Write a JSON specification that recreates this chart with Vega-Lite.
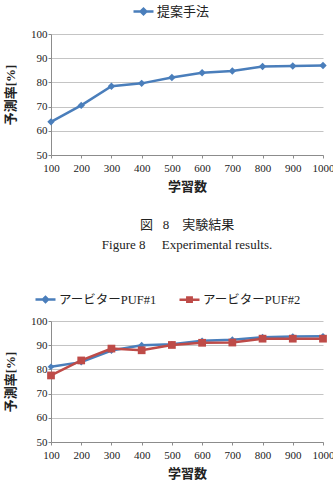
{
  "$schema": "https://vega.github.io/schema/vega-lite/v6.json",
  "padding": {"left": 4, "top": 0, "right": 6, "bottom": 6},
  "background": "white",
  "spacing": 26,
  "config": {
    "view": {"stroke": null},
    "font": "Liberation Serif",
    "style": {"guide-label": {"font": "Liberation Serif"}},
    "axis": {
      "labelFont": "Liberation Serif",
      "labelFontSize": 11,
      "labelColor": "#222",
      "titleFont": "Liberation Serif, Noto Sans CJK JP",
      "titleFontSize": 13,
      "titleFontWeight": "bold",
      "titleColor": "#222",
      "domainColor": "#8c8c8c",
      "tickColor": "#8c8c8c",
      "tickSize": 3,
      "gridColor": "#c4c4c4"
    },
    "legend": {
      "labelFont": "Liberation Serif, Noto Sans CJK JP",
      "labelFontSize": 13,
      "labelColor": "#222",
      "symbolStrokeWidth": 2.5,
      "labelOffset": 2
    }
  },
  "resolve": {
    "scale": {"color": "independent"},
    "legend": {"color": "independent"}
  },
  "datasets": {
    "proposed": [
      {"series": "提案手法", "n": 100, "rate": 63.7},
      {"series": "提案手法", "n": 200, "rate": 70.5},
      {"series": "提案手法", "n": 300, "rate": 78.4},
      {"series": "提案手法", "n": 400, "rate": 79.6},
      {"series": "提案手法", "n": 500, "rate": 82.0},
      {"series": "提案手法", "n": 600, "rate": 84.0},
      {"series": "提案手法", "n": 700, "rate": 84.7},
      {"series": "提案手法", "n": 800, "rate": 86.6},
      {"series": "提案手法", "n": 900, "rate": 86.8},
      {"series": "提案手法", "n": 1000, "rate": 87.0}
    ],
    "arbiter": [
      {"series": "アービターPUF#1", "n": 100, "rate": 81.1},
      {"series": "アービターPUF#1", "n": 200, "rate": 83.0},
      {"series": "アービターPUF#1", "n": 300, "rate": 87.8},
      {"series": "アービターPUF#1", "n": 400, "rate": 90.0},
      {"series": "アービターPUF#1", "n": 500, "rate": 90.4},
      {"series": "アービターPUF#1", "n": 600, "rate": 91.8},
      {"series": "アービターPUF#1", "n": 700, "rate": 92.3},
      {"series": "アービターPUF#1", "n": 800, "rate": 93.3},
      {"series": "アービターPUF#1", "n": 900, "rate": 93.6},
      {"series": "アービターPUF#1", "n": 1000, "rate": 93.7},
      {"series": "アービターPUF#2", "n": 100, "rate": 77.5},
      {"series": "アービターPUF#2", "n": 200, "rate": 83.7},
      {"series": "アービターPUF#2", "n": 300, "rate": 88.6},
      {"series": "アービターPUF#2", "n": 400, "rate": 87.9},
      {"series": "アービターPUF#2", "n": 500, "rate": 90.1},
      {"series": "アービターPUF#2", "n": 600, "rate": 91.0},
      {"series": "アービターPUF#2", "n": 700, "rate": 91.1},
      {"series": "アービターPUF#2", "n": 800, "rate": 92.7},
      {"series": "アービターPUF#2", "n": 900, "rate": 92.7},
      {"series": "アービターPUF#2", "n": 1000, "rate": 92.7}
    ]
  },
  "vconcat": [
    {
      "width": 272,
      "height": 121,
      "data": {"name": "proposed"},
      "mark": {"type": "line", "strokeWidth": 2.5, "point": {"shape": "diamond", "size": 55, "filled": true}},
      "encoding": {
        "x": {
          "field": "n", "type": "quantitative",
          "scale": {"domain": [100, 1000], "nice": false, "zero": false},
          "axis": {"values": [100, 200, 300, 400, 500, 600, 700, 800, 900, 1000], "format": "d", "grid": false, "labelFont": "Liberation Serif", "labelPadding": 4, "title": "学習数", "titlePadding": 7, "labelFlush": false}
        },
        "y": {
          "field": "rate", "type": "quantitative",
          "scale": {"domain": [50, 100], "nice": false, "zero": false},
          "axis": {"values": [50, 60, 70, 80, 90, 100], "labelFont": "Liberation Serif", "labelPadding": 1, "title": "予測率[%]", "titlePadding": 13}
        },
        "color": {
          "field": "series", "type": "nominal",
          "scale": {"range": ["#4a7ebb"]},
          "legend": {
            "title": null, "orient": "none", "legendX": 81, "legendY": -34,
            "symbolType": "M-1,0H1M-0.28,0L0,-0.28L0.28,0L0,0.28Z",
            "symbolSize": 400
          }
        }
      }
    },
    {
      "width": 272,
      "height": 121,
      "title": {
        "text": ["図\u00a0\u00a0\u00a08\u3000実験結果", "Figure 8\u00a0\u00a0\u00a0\u00a0\u00a0Experimental results."],
        "font": "Liberation Serif, Noto Sans CJK JP",
        "fontSize": 13,
        "fontWeight": "normal",
        "color": "#222",
        "lineHeight": 20,
        "anchor": "middle",
        "offset": 36
      },
      "data": {"name": "arbiter"},
      "encoding": {
        "x": {
          "field": "n", "type": "quantitative",
          "scale": {"domain": [100, 1000], "nice": false, "zero": false},
          "axis": {"values": [100, 200, 300, 400, 500, 600, 700, 800, 900, 1000], "format": "d", "grid": false, "labelFont": "Liberation Serif", "labelPadding": 4, "title": "学習数", "titlePadding": 7, "labelFlush": false}
        },
        "y": {
          "field": "rate", "type": "quantitative",
          "scale": {"domain": [50, 100], "nice": false, "zero": false},
          "axis": {"values": [50, 60, 70, 80, 90, 100], "labelFont": "Liberation Serif", "labelPadding": 1, "title": "予測率[%]", "titlePadding": 13}
        },
        "color": {
          "field": "series", "type": "nominal",
          "scale": {"range": ["#4a7ebb", "#be4b48"]},
          "legend": {
            "title": null, "orient": "none", "legendX": -17, "legendY": -33,
            "direction": "horizontal", "columns": 2, "columnPadding": 17,
            "labelFontSize": 12.5,
            "symbolType": "M-1,0H1M-0.28,0L0,-0.28L0.28,0L0,0.28Z",
            "symbolSize": 400,
            "encode": {
              "symbols": {
                "update": {
                  "shape": {"signal": "datum.value === 'アービターPUF#2' ? 'M-1,0H1M-0.22,-0.22H0.22V0.22H-0.22Z' : 'M-1,0H1M-0.25,0L0,-0.25L0.25,0L0,0.25Z'"}
                }
              }
            }
          }
        }
      },
      "layer": [
        {"mark": {"type": "line", "strokeWidth": 2.5}},
        {
          "mark": {"type": "point", "filled": true, "opacity": 1},
          "encoding": {
            "shape": {
              "field": "series", "type": "nominal",
              "scale": {"range": ["diamond", "square"]},
              "legend": null
            },
            "size": {
              "field": "series", "type": "nominal",
              "scale": {"range": [45, 60]},
              "legend": null
            }
          }
        }
      ]
    }
  ]
}
